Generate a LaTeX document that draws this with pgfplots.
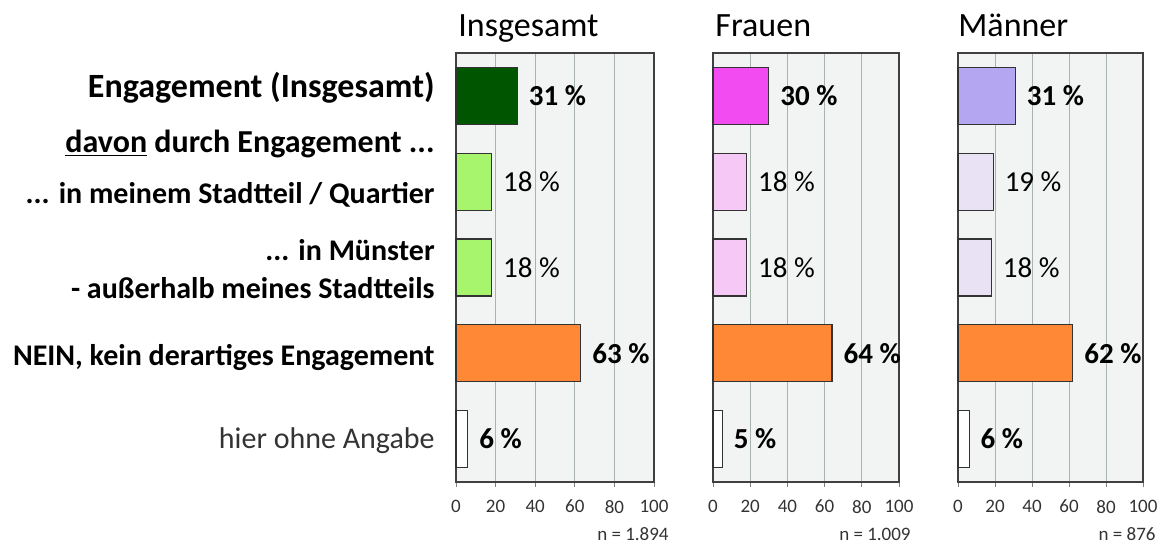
\documentclass[border=0pt]{standalone}
\usepackage{fontspec}
\setmainfont{Carlito}
\usepackage{pgfplots}
\pgfplotsset{compat=1.18}

\definecolor{dkgreen}{HTML}{005500}
\definecolor{ltgreen}{HTML}{A6F56C}
\definecolor{magentab}{HTML}{F24BF2}
\definecolor{ltpink}{HTML}{F5C8F5}
\definecolor{lavender}{HTML}{B4A6F0}
\definecolor{ltlav}{HTML}{E9E2F5}
\definecolor{orangeb}{HTML}{FE8835}
\definecolor{bggray}{HTML}{F2F4F3}
\definecolor{gridgray}{HTML}{A8B3B0}

\pgfplotsset{
  panel/.style={
    scale only axis, height=214.5pt, anchor=north west,
    xbar, bar width=28.5pt,
    xmin=0, xmax=100, ymin=-0.5, ymax=4.5,
    xtick={0,20,40,60,80,100}, ytick=\empty,
    xtick pos=bottom,
    xmajorgrids, major grid style={draw=gridgray, line width=0.5pt},
    axis background/.style={fill=bggray},
    axis line style={draw=black!75, line width=0.6pt},
    tick align=outside, major tick length=2.5pt,
    tick style={draw=gray, line width=0.5pt},
    x tick label style={font=\fontsize{9.5}{11}\selectfont, text=black!80, yshift=-3pt},
    /pgf/number format/assume math mode=true,
    clip=false,
    point meta=x,
    nodes near coords={\pgfmathprintnumber{\pgfplotspointmeta} \%},
    every node near coord/.append style={anchor=west, inner sep=0pt, xshift=5.5pt,
      font=\fontsize{14.5}{17}\selectfont, text=black},
    every axis plot/.append style={bar shift=0pt, draw=black!80, line width=0.6pt},
  },
  lblbold/.style={every node near coord/.append style={font=\fontsize{14.5}{17}\selectfont\bfseries}},
}
\tikzset{
  nlabel/.style={anchor=east, inner sep=0pt, font=\fontsize{9.5}{11}\selectfont, text=black!80},
  ptitle/.style={anchor=base west, inner sep=0pt, font=\fontsize{17}{20}\selectfont},
}

\begin{document}
\begin{tikzpicture}
\useasboundingbox (0,0) rectangle (580pt,-273pt);

% Insgesamt
\begin{axis}[panel, width=99pt, at={(228pt,-26.5pt)}]
\addplot[fill=dkgreen, bar shift=0pt, lblbold] coordinates {(31,4)};
\addplot[fill=ltgreen, bar shift=0pt] coordinates {(18,3) (18,2)};
\addplot[fill=orangeb, bar shift=0pt, lblbold] coordinates {(63,1)};
\addplot[fill=white, bar shift=0pt, lblbold] coordinates {(6,0)};
\node[ptitle] at ([xshift=1pt,yshift=8.5pt]rel axis cs:0,1) {Insgesamt};
\node[nlabel] at ([xshift=7.5pt,yshift=-26pt]rel axis cs:1,0) {n = 1.894};
\end{axis}

% Frauen
\begin{axis}[panel, width=93pt, at={(356.5pt,-26.5pt)}]
\addplot[fill=magentab, bar shift=0pt, lblbold] coordinates {(30,4)};
\addplot[fill=ltpink, bar shift=0pt] coordinates {(18,3) (18,2)};
\addplot[fill=orangeb, bar shift=0pt, lblbold] coordinates {(64,1)};
\addplot[fill=white, bar shift=0pt, lblbold] coordinates {(5,0)};
\node[ptitle] at ([xshift=1pt,yshift=8.5pt]rel axis cs:0,1) {Frauen};
\node[nlabel] at ([xshift=6pt,yshift=-26pt]rel axis cs:1,0) {n = 1.009};
\end{axis}

% Maenner
\begin{axis}[panel, width=92.5pt, at={(479pt,-26.5pt)}]
\addplot[fill=lavender, bar shift=0pt, lblbold] coordinates {(31,4)};
\addplot[fill=ltlav, bar shift=0pt] coordinates {(19,3) (18,2)};
\addplot[fill=orangeb, bar shift=0pt, lblbold] coordinates {(62,1)};
\addplot[fill=white, bar shift=0pt, lblbold] coordinates {(6,0)};
\node[ptitle] at ([xshift=0pt,yshift=8.5pt]rel axis cs:0,1) {Männer};
\node[nlabel] at ([xshift=6.5pt,yshift=-26pt]rel axis cs:1,0) {n = 876};
\end{axis}

% category labels
\begin{scope}[every node/.style={anchor=base east, inner sep=0pt, font=\fontsize{15}{18}\selectfont\bfseries}]
\node[font=\fontsize{17}{21}\selectfont\bfseries] at (217.5pt,-48.5pt) {Engagement (Insgesamt)};
\node[font=\fontsize{16}{19}\selectfont\bfseries] at (217.5pt,-76pt) {\underline{davon} durch Engagement ...};
\node at (217.5pt,-101.5pt) {... in meinem Stadtteil / Quartier};
\node at (217.5pt,-130pt) {... in Münster};
\node at (217.5pt,-149pt) {- außerhalb meines Stadtteils};
\node at (217.5pt,-182.5pt) {NEIN, kein derartiges Engagement};
\node[font=\fontsize{15}{18}\selectfont, text=black!80] at (217.5pt,-224pt) {hier ohne Angabe};
\end{scope}
\end{tikzpicture}
\end{document}
